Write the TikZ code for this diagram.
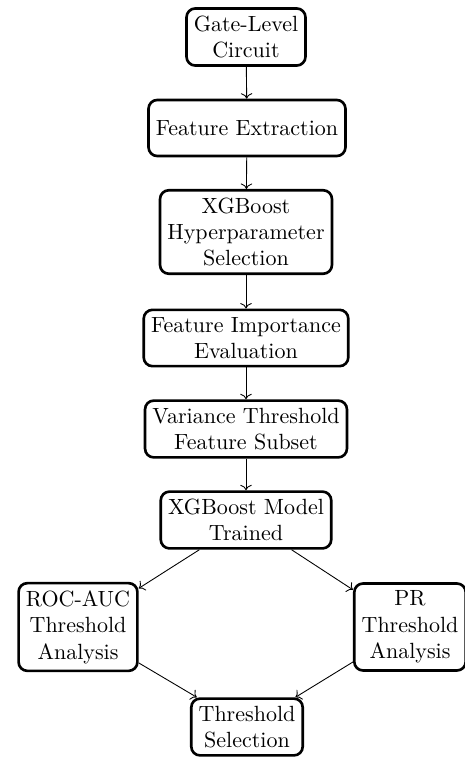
\documentclass[tikz,border=0pt]{standalone}
\usepackage{tikz}
\usetikzlibrary{arrows.meta,positioning}
\tikzset{stage/.style={draw, very thick, rounded corners, align=center, minimum height=25.5pt}}

\begin{document}
\begin{tikzpicture}[x=0.4545pt, y=-0.4545pt]

  \useasboundingbox (0,0) rectangle (465,757);

  % main column
  \node[stage] (circuit)  at (246, 37)  {Gate-Level\\Circuit};
  \node[stage] (extract)  at (247, 128) {Feature Extraction};
  \node[stage] (hyper)    at (246, 232) {XGBoost\\Hyperparameter\\Selection};
  \node[stage] (import)   at (246, 338) {Feature Importance\\Evaluation};
  \node[stage] (variance) at (246, 429) {Variance Threshold\\Feature Subset};
  \node[stage] (model)    at (246, 520) {XGBoost Model\\Trained};

  % two threshold branches
  \node[stage] (roc) at (78, 627)  {ROC-AUC\\Threshold\\Analysis};
  \node[stage] (pr)  at (410, 627) {PR\\Threshold\\Analysis};
  \node[stage] (select) at (247, 727) {Threshold\\Selection};

  \draw[->] (circuit) -- (extract);
  \draw[->] (extract) -- (hyper);
  \draw[->] (hyper) -- (import);
  \draw[->] (import) -- (variance);
  \draw[->] (variance) -- (model);

  \draw[->] (model) -- (roc); % split
  \draw[->] (model) -- (pr);
  \draw[->] (roc) -- (select); % merge
  \draw[->] (pr) -- (select);

\end{tikzpicture}
\end{document}
